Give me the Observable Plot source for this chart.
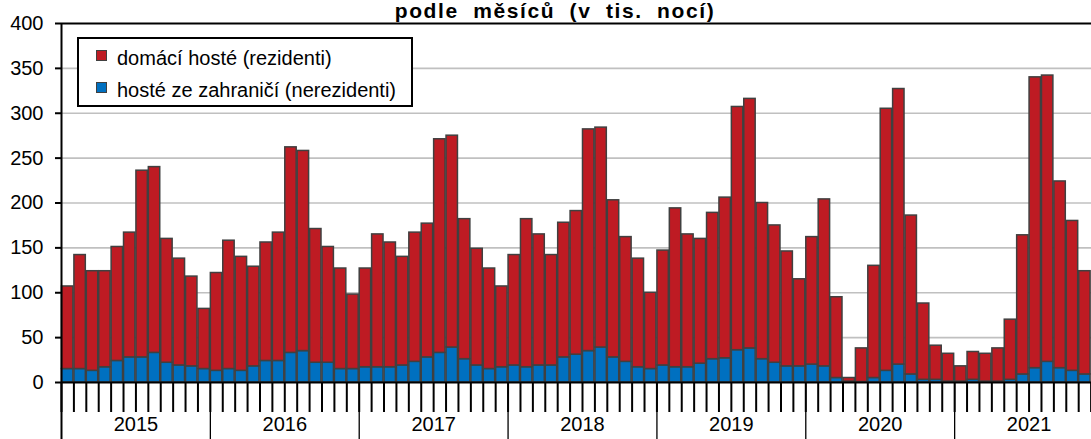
<!DOCTYPE html>
<html>
<head>
<meta charset="utf-8">
<script src="https://cdn.jsdelivr.net/npm/d3@7"></script>
<script src="https://cdn.jsdelivr.net/npm/@observablehq/plot@0.6"></script>
<style>
  html, body { margin: 0; padding: 0; background: #fff; overflow: hidden; }
  #wrap { position: relative; width: 1110px; height: 440px; }
  #wrap svg { max-width: none !important; overflow: visible; }
  #title { position: absolute; left: 0; top: 0px; width: 1110px; text-align: center;
    font: bold 21px "Liberation Sans", Arial, sans-serif; line-height: 21px;
    letter-spacing: 1.6px; word-spacing: 7px; white-space: nowrap; color: #000; z-index: 2; }
  #legend { position: absolute; left: 77px; top: 37px; width: 336px; height: 70px; box-sizing: border-box;
    border: 2px solid #000; background: #fff; font: 20px "Liberation Sans", Arial, sans-serif; color: #000; z-index: 2; }
  #legend .sw { position: absolute; left: 17px; width: 11px; height: 11px; box-sizing: border-box; border: 1.5px solid #404040; }
  #legend .lb { position: absolute; left: 38px; line-height: 20px; white-space: nowrap; }
</style>
</head>
<body>
<div id="wrap">
  <div id="title"></div>
  <div id="legend"></div>
</div>
<script>
// ---- data ----
const titleText = "podle měsíců (v tis. nocí)";
const years = ["2015", "2016", "2017", "2018", "2019", "2020", "2021"];
const monthNums = ["1", "2", "3", "4", "5", "6", "7", "8", "9", "10", "11", "12"];
const seriesNames = ["domácí hosté (rezidenti)", "hosté ze zahraničí (nerezidenti)"];
const seriesColors = ["#BE1B23", "#0070C0"];
const yTicks = [0, 50, 100, 150, 200, 250, 300, 350, 400];
const gridValues = [50, 100, 150, 200, 250, 300, 350];

// domácí hosté (rezidenti), thousands of nights
const domestic = [
  92, 127, 111, 107, 127, 139, 208, 207, 138, 119, 100, 67,
  109, 143, 127, 111, 132, 143, 229, 223, 149, 129, 112, 83,
  110, 148, 139, 121, 144, 149, 238, 236, 156, 130, 112, 90,
  123, 165, 146, 123, 150, 160, 247, 245, 175, 139, 121, 85,
  128, 177, 148, 139, 163, 179, 271, 278, 174, 153, 128, 97,
  142, 186, 90, 4, 37.5, 125, 292, 307, 177, 85, 38, 31,
  17, 31, 31, 37, 67, 155, 324, 319, 208, 167, 115
];
// hosté ze zahraničí (nerezidenti)
const foreign = [
  15, 15, 13, 17, 24, 28, 28, 33, 22, 19, 18, 15,
  13, 15, 13, 18, 24, 24, 33, 35, 22, 22, 15, 15,
  17, 17, 17, 19, 23, 28, 33, 39, 26, 19, 15, 17,
  19, 17, 19, 19, 28, 31, 35, 39, 28, 23, 17, 15,
  19, 17, 17, 21, 26, 27, 36, 38, 26, 22, 18, 18,
  20, 18, 5, 1, 0.5, 5, 13, 20, 9, 3, 3, 1,
  1, 3, 1, 1, 3, 9, 16, 23, 16, 13, 9
];

// ---- layout ----
const W = 1110, H = 440, mL = 61, mR = 7, mT = 23, mB = 58;
const months = years.flatMap(y => monthNums.map(m => `${y}-${m}`));
const step = (W - mL - mR) / months.length;
const plotH = H - mT - mB;

const rows = [];
months.forEach((m, i) => { if (foreign[i] != null) rows.push({month: m, series: seriesNames[1], value: foreign[i]}); });
months.forEach((m, i) => { if (domestic[i] != null) rows.push({month: m, series: seriesNames[0], value: domestic[i]}); });

const yearStarts = years.slice(1).map(y => `${y}-1`);

const chart = Plot.plot({
  width: W, height: H,
  marginLeft: mL, marginRight: mR, marginTop: mT, marginBottom: mB,
  style: 'font-family: "Liberation Sans", Arial, sans-serif; font-size: 20px; color: #000; background: transparent; max-width: none; overflow: visible;',
  x: {type: "band", domain: months, paddingInner: 0.08, paddingOuter: 0.04, axis: null},
  y: {domain: [0, 400], axis: null},
  color: {domain: seriesNames, range: seriesColors},
  marks: [
    Plot.ruleY(gridValues, {stroke: "#c0c0c0", strokeWidth: 1.6}),
    Plot.barY(rows, {x: "month", y: "value", fill: "series", stroke: "#404040", strokeWidth: 1.5}),
    Plot.ruleY([400], {stroke: "#000", strokeWidth: 2}),
    Plot.ruleY([0], {stroke: "#000", strokeWidth: 2}),
    Plot.axisY({ticks: yTicks, anchor: "left", tickSize: 6, tickPadding: 12, stroke: "#000", strokeWidth: 2, label: null, tickFormat: d => String(d)}),
    // left axis line (extends down as first year boundary)
    Plot.ruleX([months[0]], {x: d => d, dx: -step / 2, insetBottom: -62, stroke: "#000", strokeWidth: 2}),
    // month ticks at band boundaries
    Plot.ruleX(months, {x: d => d, dx: -step / 2, insetTop: plotH, insetBottom: -30, stroke: "#000", strokeWidth: 2}),
    // year boundary ticks
    Plot.ruleX(yearStarts, {x: d => d, dx: -step / 2, insetTop: plotH, insetBottom: -62, stroke: "#000", strokeWidth: 1.3}),
    // year labels
    Plot.text(years, {x: d => `${d}-6`, dx: step / 2, frameAnchor: "bottom", dy: 48, text: d => d, fill: "#000", fontSize: 20})
  ]
});
document.getElementById("wrap").appendChild(chart);

document.getElementById("title").textContent = titleText;
const legend = document.getElementById("legend");
const swTops = [10.5, 42.5];
const lbTops = [9, 40.5];
seriesNames.forEach((name, i) => {
  const sw = document.createElement("div");
  sw.className = "sw";
  sw.style.top = swTops[i] + "px";
  sw.style.background = seriesColors[i];
  legend.appendChild(sw);
  const lb = document.createElement("div");
  lb.className = "lb";
  lb.style.top = lbTops[i] + "px";
  lb.textContent = name;
  legend.appendChild(lb);
});
</script>
</body>
</html>
